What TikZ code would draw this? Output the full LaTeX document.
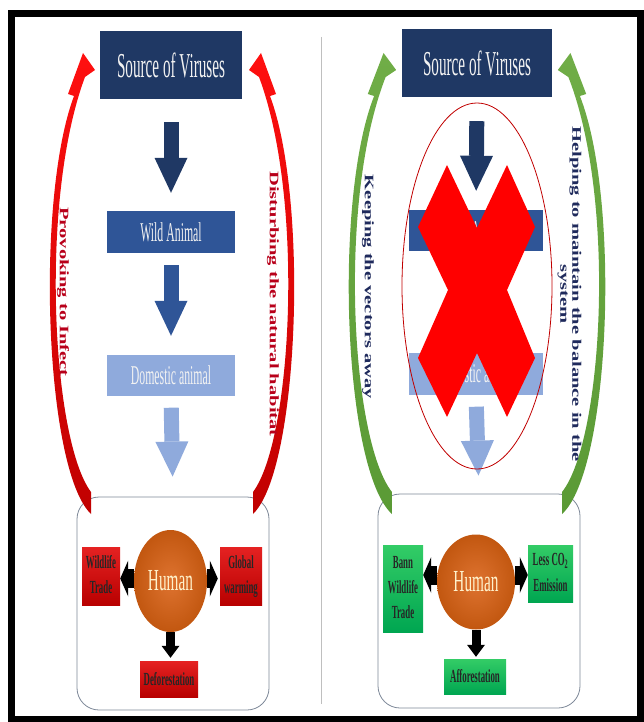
\documentclass[tikz,border=0pt]{standalone}
\usepackage{fontspec}
\setmainfont{Liberation Serif}
\usetikzlibrary{arrows.meta,shapes.geometric}

\definecolor{srcblue}{HTML}{1F3864}
\definecolor{wildblue}{HTML}{2F5597}
\definecolor{domblue}{HTML}{8FAADC}
\definecolor{boxtext}{HTML}{F2F2F2}
\definecolor{arctop}{HTML}{FF1010}
\definecolor{arcbot}{HTML}{C00000}
\definecolor{greentop}{HTML}{70AD47}
\definecolor{greenbot}{HTML}{5A9A35}
\definecolor{humanlight}{HTML}{DE7330}
\definecolor{humandark}{HTML}{C25710}
\definecolor{humantext}{HTML}{FFF2CC}
\definecolor{badtop}{HTML}{E52222}
\definecolor{badbot}{HTML}{B80000}
\definecolor{goodtop}{HTML}{33CC66}
\definecolor{goodbot}{HTML}{00A651}
\definecolor{notered}{HTML}{B8001A}
\definecolor{notenavy}{HTML}{1F2A5C}
\definecolor{ringred}{HTML}{C00000}
\definecolor{slate}{HTML}{44546A}

\tikzstyle{srcbox} = [rectangle, fill=srcblue, text=boxtext, inner sep=0pt, minimum width=142pt, minimum height=68pt, font=\fontsize{15.2}{18}\selectfont]
\tikzstyle{wildbox} = [rectangle, fill=wildblue, text=boxtext, inner sep=0pt, minimum width=128pt, minimum height=42pt, font=\fontsize{11.8}{14}\selectfont]
\tikzstyle{dombox} = [wildbox, fill=domblue]
\tikzstyle{flow} = [line width=15pt, -{Triangle[width=33pt,length=35pt,line width=0pt]}, shorten <=12pt, shorten >=18pt]
\tikzstyle{humanbox} = [rectangle, rounded corners=22pt, draw=slate!70, line width=0.8pt, inner sep=0pt]
\tikzstyle{human} = [ellipse, inner sep=0pt, inner color=humanlight, outer color=humandark, text=humantext, font=\fontsize{15.3}{18}\selectfont]
\tikzstyle{badbox} = [rectangle, inner sep=0pt, top color=badtop, bottom color=badbot, text=black!85, font=\fontsize{8.8}{12}\selectfont\bfseries]
\tikzstyle{goodbox} = [badbox, top color=goodtop, bottom color=goodbot]
\tikzstyle{push} = [line width=19pt, -{Triangle[width=36pt,length=8pt,line width=0pt]}]
\tikzstyle{pushdown} = [line width=9pt, -{Triangle[width=18pt,length=12pt,line width=0pt]}, shorten >=2pt]
\tikzstyle{sidenote} = [rotate=-90, inner sep=0pt, font=\fontsize{13}{12}\selectfont\bfseries]

\newcommand{\vst}[2]{\scalebox{1}[#1]{#2}}
\newcommand{\halfloop}[2]{\shade[top color=#1, bottom color=#2] (-81,514) .. controls (-127,470) and (-137,200) .. (-98,96) -- (-104,94) -- (-89,53) -- (-77,70) -- (-87,77) .. controls (-133,200) and (-120,440) .. (-81,492) -- cycle;}

\begin{document}
\begin{tikzpicture}[x=1pt,y=-1pt]
\useasboundingbox (0,0) rectangle (643,722);
\draw[line width=7pt] (11,14) rectangle (640,719.5);
\draw[gray!50, line width=1pt] (321,37) -- (321,704);

% left panel
\node[srcbox] (srcL) at (171,65) {\vst{2.3}{Source of Viruses}};
\node[wildbox] (wildL) at (171,232) {\vst{2.3}{Wild Animal}};
\node[dombox, minimum height=41pt] (domL) at (171,375) {\vst{2.3}{Domestic animal}};
\node[humanbox, minimum width=192pt, minimum height=213pt] (boxL) at (173,603.5) {};
\draw[flow, srcblue, shorten <=23pt] (srcL.south) -- (wildL.north);
\draw[flow, wildblue, shorten >=18.5pt] (wildL.south) -- (domL.north);
\draw[flow, domblue, shorten >=20pt] (domL.south) -- (boxL.north);

\node[human, minimum width=73pt, minimum height=102pt] (humL) at (170.5,581) {\vst{2}{Human}};
\node[badbox, minimum width=38pt, minimum height=58pt] (tradeL) at (101,576) {\vst{2.1}{\begin{tabular}{@{}c@{}}Wildlife\\Trade\end{tabular}}};
\node[badbox, minimum width=42pt, minimum height=58pt] (warmL) at (241,576) {\vst{2.1}{\begin{tabular}{@{}c@{}}Global\\warming\end{tabular}}};
\node[badbox, minimum width=58pt, minimum height=36pt] (defoL) at (169,679) {\vst{2.1}{Deforestation}};
\draw[push] ([yshift=2.5pt]humL.west) -- ([yshift=2.5pt]humL.west -| tradeL.east);
\draw[push, shorten >=2pt] ([yshift=2.5pt]humL.east) -- ([yshift=2.5pt]humL.east -| warmL.west);
\draw[pushdown, shorten >=3pt] (humL.south) -- (humL.south |- defoL.north);

\begin{scope}[shift={(172,0)}]
\halfloop{arctop}{arcbot}
\end{scope}
\begin{scope}[shift={(172,0)}, xscale=-1]
\halfloop{arctop}{arcbot}
\end{scope}
\node[sidenote, text=notered] (provoke) at (63,292) {\scalebox{1.58}[1]{Provoking to Infect}};
\node[sidenote, text=notered] (disturb) at (273,304) {\scalebox{1.58}[1]{Disturbing the natural habitat}};

% right panel
\node[srcbox, minimum width=150pt] (srcR) at (477,63) {\vst{2.3}{Source of Viruses}};
\node[wildbox, minimum width=134pt, minimum height=41pt] (wildR) at (476,230.5) {\vst{2.3}{Wild Animal}};
\node[dombox, minimum width=134pt] (domR) at (476,373.5) {\vst{2.3}{Domestic animal}};
\node[humanbox, minimum width=202pt, minimum height=214pt] (boxR) at (479,601) {};
\draw[flow, srcblue, shorten <=24pt, shorten >=19pt] (srcR.south) -- (wildR.north);
\draw[flow, wildblue, shorten <=13pt, shorten >=19pt] (wildR.south) -- (domR.north);
\draw[flow, domblue] (domR.south) -- (boxR.north);

\node[human, minimum width=78pt, minimum height=95pt] (humR) at (476,582) {\vst{2}{Human}};
\node[goodbox, minimum width=40pt, minimum height=87pt] (bannR) at (403,588.5) {\vst{2.1}{\begin{tabular}{@{}c@{}}Bann\\Wildlife\\Trade\end{tabular}}};
\node[goodbox, minimum width=45pt, minimum height=57pt] (lessR) at (550.5,573.5) {\vst{2.1}{\begin{tabular}{@{}c@{}}Less CO\textsubscript{2}\\Emission\end{tabular}}};
\node[goodbox, minimum width=62pt, minimum height=35pt] (affR) at (475,676.5) {\vst{2.1}{Afforestation}};
\draw[push] ([yshift=7pt]humR.west) -- ([yshift=7pt]humR.west -| bannR.east);
\draw[push] ([yshift=7pt]humR.east) -- ([yshift=7pt]humR.east -| lessR.west);
\draw[pushdown] (humR.south) -- (humR.south |- affR.north);

\begin{scope}[shift={(477,0)}, xscale=1.05]
\halfloop{greentop}{greenbot}
\end{scope}
\begin{scope}[shift={(477,0)}, xscale=-1.05]
\halfloop{greentop}{greenbot}
\end{scope}
\node[sidenote, text=notenavy] (keep) at (368,287) {\scalebox{1.58}[1]{Keeping the vectors away}};
\node[sidenote, text=notenavy] (balance) at (569,294) {\scalebox{1.58}[1]{\begin{tabular}{@{}c@{}}Helping to maintain the balance in the\\system\end{tabular}}};

\draw[ringred, line width=0.8pt] (477,286) ellipse [x radius=75, y radius=183];
\fill[red] (447,165) -- (477,228) -- (507,165) -- (535,227) -- (507,290) -- (535,358) -- (507,417) -- (477,353) -- (447,417) -- (418,358) -- (448,290) -- (418,227) -- cycle;
\end{tikzpicture}
\end{document}
